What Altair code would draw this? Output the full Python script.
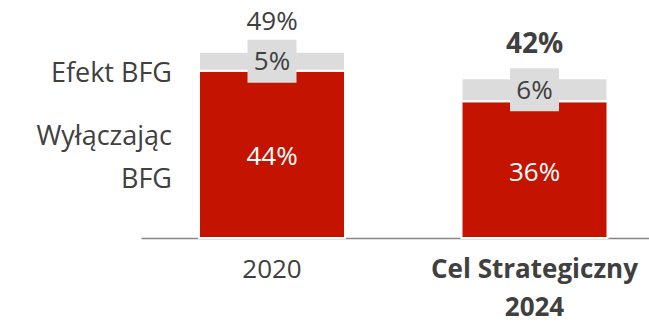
import altair as alt
import pandas as pd

categories = ["2020", "Cel Strategiczny 2024"]
excl_bfg = [44, 36]          # Wyłączając BFG
bfg_effect = [5, 6]          # Efekt BFG
totals = ["49%", "42%"]
total_values = [49, 42]
series_names = ["Wyłączając BFG", "Efekt BFG"]
series_labels = ["Wyłączając\nBFG", "Efekt BFG"]

RED = "#C41400"
GREY = "#DCDCDC"
TEXT = "#404040"
FONT = "Open Sans"

rows = []
for c, a, b in zip(categories, excl_bfg, bfg_effect):
    rows.append(dict(category=c, series=series_names[0], start=0, end=a,
                     mid=a / 2, label=f"{a}%"))
    rows.append(dict(category=c, series=series_names[1], start=a, end=a + b,
                     mid=a + b / 2, label=f"{b}%"))
seg = pd.DataFrame(rows)
tot = pd.DataFrame(dict(category=categories, total=total_values, label=totals))
leg = seg[seg.category == categories[0]].copy()
leg["text"] = series_labels

x = alt.X("category:N", sort=categories,
          scale=alt.Scale(paddingInner=0.4438, paddingOuter=0.1895, align=0.583),
          axis=alt.Axis(title=None, labelAngle=0, ticks=False, grid=False, domainColor="#868686",
                        domainWidth=1.5, labelFont=FONT, labelFontSize=26, labelLimit=400,
                        labelColor=TEXT, labelPadding=18, labelLineHeight=38,
                        labelExpr="datum.value == 'Cel Strategiczny 2024' ? ['Cel Strategiczny', '2024'] : datum.value",
                        labelFontWeight={"condition": {"test": "datum.value == 'Cel Strategiczny 2024'", "value": "bold"}, "value": "normal"}))
yscale = alt.Scale(domain=[0, 62.6], nice=False)


def Y(field):
    return alt.Y(field, scale=yscale, axis=None)


base = alt.Chart(seg)

bars = base.mark_bar(stroke="white", strokeWidth=2).encode(
    x=x,
    y=Y("start:Q"),
    y2="end:Q",
    color=alt.Color("series:N", scale=alt.Scale(domain=series_names, range=[RED, GREY]), legend=None),
)

grey = base.transform_filter(alt.datum.series == series_names[1])
box = grey.mark_point(shape="M-1,-0.878L1,-0.878L1,0.878L-1,0.878Z", size=2401,
                      filled=True, color=GREY, opacity=1, strokeWidth=0).encode(
    x=x, y=Y("mid:Q"))
grey_txt = grey.mark_text(font=FONT, fontSize=26, color=TEXT, baseline="middle", dy=1).encode(
    x=x, y=Y("mid:Q"), text="label:N")

red_txt = base.transform_filter(alt.datum.series == series_names[0]).mark_text(
    font=FONT, fontSize=26, color="white", baseline="middle", dy=3).encode(
    x=x, y=Y("mid:Q"), text="label:N")

tbase = alt.Chart(tot)
tot1 = tbase.transform_filter(alt.datum.category == categories[0]).mark_text(
    font=FONT, fontSize=26, color=TEXT, baseline="middle", dy=-30).encode(
    x=x, y=Y("total:Q"), text="label:N")
tot2 = tbase.transform_filter(alt.datum.category == categories[1]).mark_text(
    font=FONT, fontSize=28, fontWeight="bold", color=TEXT, baseline="middle", dy=-33).encode(
    x=x, y=Y("total:Q"), text="label:N")

lbase = alt.Chart(leg)
leg1 = lbase.transform_filter(alt.datum.series == series_names[1]).mark_text(
    font=FONT, fontSize=27, color=TEXT, align="right", baseline="middle", dy=13).encode(
    x=alt.value(31), y=Y("mid:Q"), text="text:N")
leg2 = lbase.transform_filter(alt.datum.series == series_names[0]).mark_text(
    font=FONT, fontSize=27, color=TEXT, align="right", baseline="middle", dy=-17,
    lineBreak="\n", lineHeight=43).encode(
    x=alt.value(31), y=Y("mid:Q"), text="text:N")

chart = alt.layer(bars, box, grey_txt, red_txt, tot1, tot2, leg1, leg2).properties(
    width=508, height=238,
    background="white",
    autosize=alt.AutoSizeParams(type="none"),
    padding={"left": 141, "top": 0, "right": 0, "bottom": 89},
).configure_view(strokeWidth=0, stroke=None)

chart.save("out.html", embed_options={"renderer": "svg", "actions": False})
